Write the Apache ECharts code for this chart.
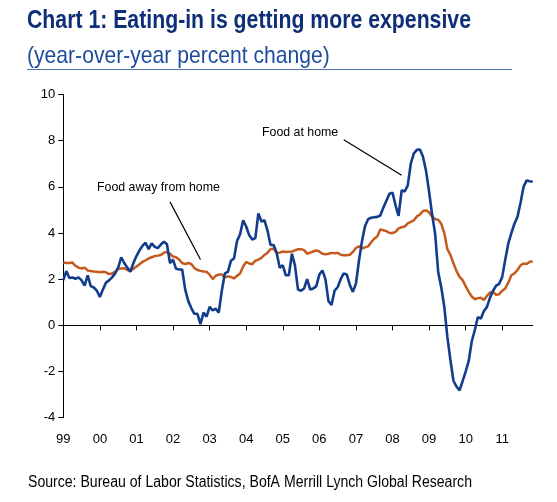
<!DOCTYPE html>
<html>
<head>
<meta charset="utf-8">
<script src="https://cdn.jsdelivr.net/npm/echarts@6/dist/echarts.min.js"></script>
<style>
html,body{margin:0;padding:0;background:#fff;}
#chart{width:557px;height:502px;}
</style>
</head>
<body>
<div id="chart"></div>
<script>
// Years shown on the axis (two-digit labels)
const yearLabels = ["99","00","01","02","03","04","05","06","07","08","09","10","11"];
// Monthly year-over-year % change, Jan 1999 .. Nov 2011
const foodAtHome = [
1.96,2.35,2.05,2.07,2.02,2.08,1.95,1.72,2.17,1.70,1.64,1.50,
1.23,1.55,1.85,1.95,2.08,2.25,2.50,2.95,2.70,2.50,2.32,2.70,
3.00,3.25,3.45,3.58,3.30,3.55,3.40,3.35,3.50,3.62,3.52,2.70,
2.85,2.45,2.42,2.42,1.55,1.05,0.75,0.50,0.50,0.05,0.55,0.38,
0.80,0.65,0.72,0.55,1.50,2.25,2.32,2.80,2.90,3.65,3.95,4.55,
4.28,3.90,3.72,3.78,4.85,4.50,4.55,4.10,3.48,3.48,3.15,2.50,
2.60,2.17,2.17,3.10,2.60,1.55,1.50,1.60,2.00,1.55,1.60,1.70,
2.20,2.38,2.00,1.05,0.88,1.50,1.65,2.00,2.25,2.20,1.75,1.45,
1.80,2.80,3.65,4.30,4.60,4.66,4.68,4.70,4.76,5.10,5.40,5.70,
5.75,5.20,4.74,5.85,5.80,6.05,7.00,7.45,7.60,7.62,7.30,6.70,
5.80,4.80,3.95,2.30,1.65,0.80,-0.50,-1.50,-2.40,-2.65,-2.82,-2.42,
-2.00,-1.55,-0.70,-0.20,0.35,0.30,0.62,0.80,1.20,1.50,1.72,1.80,
2.10,2.85,3.55,4.00,4.40,4.70,5.30,6.00,6.28,6.24,6.22
];
const foodAwayFromHome = [
2.72,2.70,2.70,2.72,2.58,2.50,2.46,2.50,2.38,2.35,2.33,2.32,
2.30,2.32,2.30,2.22,2.25,2.32,2.45,2.46,2.47,2.40,2.36,2.45,
2.55,2.65,2.75,2.82,2.90,2.95,3.00,3.02,3.05,3.15,3.18,3.10,
2.98,2.95,2.85,2.70,2.65,2.70,2.66,2.48,2.40,2.36,2.33,2.32,
2.20,2.00,2.15,2.20,2.20,2.08,2.12,2.10,2.03,2.15,2.25,2.55,
2.75,2.68,2.65,2.80,2.85,2.92,3.05,3.15,3.30,3.33,3.12,3.15,
3.20,3.18,3.19,3.20,3.25,3.30,3.30,3.26,3.10,3.15,3.20,3.25,
3.20,3.10,3.08,3.10,3.14,3.12,3.14,3.06,3.04,3.04,3.06,3.18,
3.35,3.42,3.33,3.38,3.42,3.60,3.75,3.85,4.15,4.12,4.08,4.00,
4.00,4.05,4.20,4.25,4.28,4.42,4.48,4.55,4.72,4.80,4.95,4.98,
4.90,4.72,4.60,4.58,4.40,4.00,3.30,3.05,2.70,2.35,2.10,1.96,
1.70,1.45,1.25,1.13,1.18,1.20,1.10,1.28,1.42,1.45,1.32,1.35,
1.50,1.60,1.85,2.17,2.25,2.40,2.60,2.68,2.66,2.75,2.78
];
const yTicks = [-4,-2,0,2,4,6,8,10];

// month categories
const months = [];
for (let i = 0; i < foodAtHome.length; i++) {
  const y = Math.floor(i / 12);
  months.push(i % 12 === 0 ? yearLabels[y] : "m" + i);
}

const chart = echarts.init(document.getElementById('chart'), null, {renderer: 'canvas'});
const sans = '"Liberation Sans",Arial,sans-serif';
const blue = '#123d8c';
const orange = '#c65a1c';
const isYearStart = function (i) { return i % 12 === 0; };

chart.setOption({
  animation: false,
  backgroundColor: '#ffffff',
  graphic: [
    {type: 'text', x: 27, y: 9, scaleX: 0.85, z: 10,
     style: {text: 'Chart 1: Eating-in is getting more expensive', font: 'bold 25px ' + sans, fill: '#0e2f78'}},
    {type: 'text', x: 27, y: 44, scaleX: 0.88, z: 10,
     style: {text: '(year-over-year percent change)', font: '24px ' + sans, fill: '#1e4b9e'}},
    {type: 'line', shape: {x1: 27, y1: 69.5, x2: 512, y2: 69.5}, style: {stroke: '#4f74a8', lineWidth: 1}},
    {type: 'text', x: 28, y: 475, scaleX: 0.88, z: 10,
     style: {text: 'Source: Bureau of Labor Statistics, BofA Merrill Lynch Global Research', font: '16px ' + sans, fill: '#000'}},
    {type: 'text', x: 262, y: 126, scaleX: 0.95, z: 10,
     style: {text: 'Food at home', font: '13px ' + sans, fill: '#000'}},
    {type: 'text', x: 97, y: 181, scaleX: 0.95, z: 10,
     style: {text: 'Food away from home', font: '13px ' + sans, fill: '#000'}}
  ],
  grid: {left: 63.3, right: 24.3, top: 94.5, bottom: 84.3, containLabel: false, outerBoundsMode: 'none'},
  xAxis: [
    {
      type: 'category', data: months, boundaryGap: false, position: 'bottom',
      axisLine: {show: false, onZero: false},
      axisTick: {show: false},
      axisLabel: {interval: isYearStart, margin: 15, fontFamily: sans, fontSize: 13, color: '#000'},
      splitLine: {show: false}
    },
    {
      type: 'category', data: months, boundaryGap: false, position: 'bottom',
      axisLine: {show: true, onZero: true, lineStyle: {color: '#000', width: 1}},
      axisTick: {show: true, length: 5, inside: false, interval: function (i) { return i % 12 === 0 && i > 0; }, lineStyle: {color: '#000'}},
      axisLabel: {show: false},
      splitLine: {show: false}
    }
  ],
  yAxis: {
    type: 'value', min: -4, max: 10, interval: 2,
    axisLine: {show: true, lineStyle: {color: '#000', width: 1}},
    axisTick: {show: true, length: 5, lineStyle: {color: '#000'}},
    axisLabel: {margin: 8, fontFamily: sans, fontSize: 13, color: '#000'},
    splitLine: {show: false}
  },
  series: [
    {name: 'Food away from home', type: 'line', data: foodAwayFromHome, symbol: 'none', xAxisIndex: 0,
     lineStyle: {color: orange, width: 2.5}, z: 2},
    {name: 'Food at home', type: 'line', data: foodAtHome, symbol: 'none', xAxisIndex: 0,
     lineStyle: {color: blue, width: 2.6}, z: 3,
     markLine: {
       silent: true, symbol: ['none', 'arrow'], symbolSize: [0, 8],
       lineStyle: {color: '#000', width: 1.2, type: 'solid'}, label: {show: false},
       data: [
         [{coord: [92, 8.04]}, {coord: [111, 6.5]}],
         [{coord: [35, 5.35]}, {coord: [45, 2.85]}]
       ]
     }}
  ]
});
</script>
</body>
</html>
